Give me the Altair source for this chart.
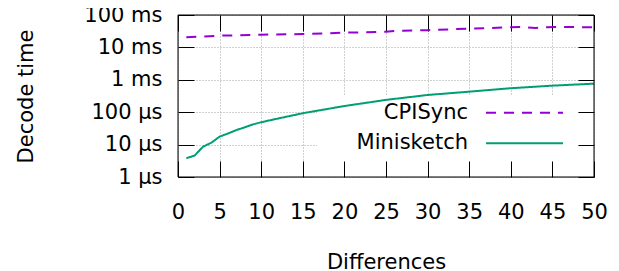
import altair as alt
import pandas as pd

# ---- data (decode time in microseconds) ----
cpisync_x = [1, 5, 10, 15, 20, 25, 26, 30, 35, 40, 41, 43, 44, 46, 50]
cpisync_us = [20500, 23000, 24600, 25900, 28400, 30500, 32000, 34000, 38000,
              41700, 42600, 40000, 41700, 42600, 42000]
mini_x = [1, 2, 3, 4, 5, 6, 7, 8, 9, 10, 11, 15, 20, 25, 30, 35, 40, 45, 50]
mini_us = [3.8, 4.6, 8.6, 11.4, 17.6, 22, 28, 34, 42, 49, 56, 93, 155, 240,
           340, 430, 550, 660, 760]

series_names = ["CPISync", "Minisketch"]
series_colors = ["#9400d3", "#009e73"]

x_ticks = [0, 5, 10, 15, 20, 25, 30, 35, 40, 45, 50]
y_ticks = [1, 10, 100, 1000, 10000, 100000]
y_tick_labels = ["1 µs", "10 µs", "100 µs", "1 ms", "10 ms", "100 ms"]

FONT = "DejaVu Sans"
FS = 21
W, H = 416, 162
TL = 16  # inward tick length

df = pd.concat([
    pd.DataFrame({"x": cpisync_x, "t": cpisync_us, "s": series_names[0]}),
    pd.DataFrame({"x": mini_x, "t": mini_us, "s": series_names[1]}),
])

# label expression built from the tick lists
expr = "''"
for v, lab in zip(reversed(y_ticks), reversed(y_tick_labels)):
    expr = f"datum.value == {v} ? '{lab}' : ({expr})"

xscale = alt.Scale(domain=[0, 50], nice=False, zero=False)
yscale = alt.Scale(type="log", domain=[1, 100000], nice=False)

common = dict(domain=False, ticks=True, tickSize=TL, tickColor="black",
              tickWidth=1, offset=-TL, gridColor="#a0a0a0", gridDash=[1, 2],
              gridWidth=1, labelFont=FONT, labelFontSize=FS, labelColor="black",
              labelFlush=False, labelOverlap=False, titleFont=FONT,
              titleFontSize=FS, titleFontWeight="normal", titleColor="black")

x_main = alt.Axis(orient="bottom", values=x_ticks, grid=True, labelPadding=24,
                  title="Differences", titleY=91 + TL, titleBaseline="alphabetic",
                  **common)
y_main = alt.Axis(orient="left", values=y_ticks, grid=True, labelExpr=expr,
                  labelPadding=16, title="Decode time", titleX=-146 - TL,
                  titleBaseline="alphabetic", **common)
x_mirror = alt.Axis(orient="top", values=x_ticks, grid=False, labels=False,
                    title=None, **common)
y_mirror = alt.Axis(orient="right", values=y_ticks, grid=False, labels=False,
                    title=None, **common)

# opaque key box (hides the grid, leaves the tick strips free)
keybox = alt.Chart(pd.DataFrame({"k": [0]})).mark_rect(color="white").encode(
    x=alt.value(139), x2=alt.value(W - TL), y=alt.value(81), y2=alt.value(H - TL)
)

lines = alt.Chart(df).mark_line(strokeWidth=2).encode(
    x=alt.X("x:Q", scale=xscale, axis=x_main),
    y=alt.Y("t:Q", scale=yscale, axis=y_main),
    color=alt.Color("s:N", scale=alt.Scale(domain=series_names, range=series_colors),
                    legend=None),
    strokeDash=alt.StrokeDash("s:N", scale=alt.Scale(domain=series_names,
                                                     range=[[10, 8], [1, 0]]),
                              legend=None),
)

mirror = alt.Chart(df).mark_point(opacity=0).encode(
    x=alt.X("x:Q", scale=xscale, axis=x_mirror),
    y=alt.Y("t:Q", scale=yscale, axis=y_mirror),
)

# manual gnuplot-style key (text left, sample right)
key_layers = []
key_y = [97.7, 128.3]
dashes = [[10, 8], [1, 0]]
for i, name in enumerate(series_names):
    kd = pd.DataFrame({"s": [name]})
    key_layers.append(
        alt.Chart(kd).mark_text(align="right", baseline="middle", font=FONT,
                                fontSize=FS, color="black").encode(
            text="s:N", x=alt.value(290), y=alt.value(key_y[i]))
    )
    key_layers.append(
        alt.Chart(kd).mark_rule(color=series_colors[i], strokeWidth=2,
                                strokeDash=dashes[i]).encode(
            x=alt.value(308), x2=alt.value(385), y=alt.value(key_y[i]))
    )

border = alt.Chart(pd.DataFrame({"b": [0]})).mark_rect(
    fillOpacity=0, stroke="black", strokeWidth=1).encode(
    x=alt.value(0), x2=alt.value(W), y=alt.value(0), y2=alt.value(H))

chart = alt.layer(
    keybox, lines, mirror, *key_layers, border
).resolve_axis(x="independent", y="independent").properties(
    width=W, height=H,
    autosize=alt.AutoSizeParams(type="none"),
    padding={"left": 170, "top": 7, "right": 17, "bottom": 100},
).configure_view(strokeWidth=0).configure(background="white")

chart.save("out.html", embed_options={"renderer": "svg", "actions": False})
